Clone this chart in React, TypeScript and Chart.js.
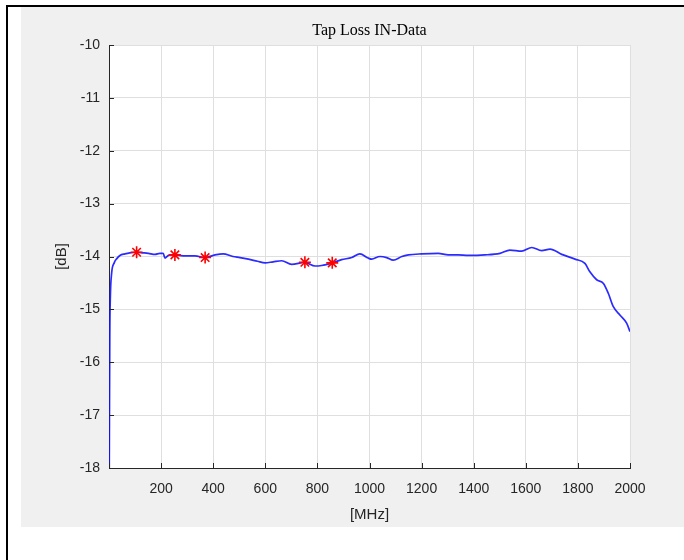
import React, { useEffect, useRef } from "react";
import { Chart, registerables } from "chart.js";

Chart.register(...registerables);

const TITLE = "Tap Loss IN-Data";
const X_TITLE = "[MHz]";
const Y_TITLE = "[dB]";

const freqMHz = [
  1, 3, 5, 10, 20, 30, 42, 61, 80, 106, 130, 151, 177, 195, 208, 215, 225, 234, 253, 270,
  292, 330, 369, 407, 438, 476, 503, 535, 570, 599, 630, 663, 701, 752, 791, 816, 857, 893,
  932, 963, 995, 1008, 1040, 1066, 1091, 1124, 1149, 1200, 1264, 1302, 1340, 1379, 1443,
  1501, 1539, 1584, 1623, 1661, 1693, 1738, 1789, 1827, 1846, 1872, 1898, 1917, 1936, 1962,
  1987, 2000,
];
const lossDb = [
  -18, -15.5, -14.8, -14.32, -14.12, -14.04, -13.98, -13.95, -13.93, -13.92, -13.93, -13.94,
  -13.96, -13.94, -13.94, -14.03, -13.99, -13.97, -13.97, -13.98, -13.99, -13.99, -14.02,
  -13.97, -13.95, -14.0, -14.02, -14.05, -14.09, -14.12, -14.1, -14.08, -14.15, -14.11,
  -14.18, -14.17, -14.12, -14.06, -14.02, -13.95, -14.03, -14.05, -14.0, -14.02, -14.07,
  -14.0, -13.97, -13.95, -13.94, -13.97, -13.97, -13.98, -13.97, -13.94, -13.88, -13.9,
  -13.83, -13.89, -13.86, -13.96, -14.05, -14.13, -14.29, -14.44, -14.51, -14.7, -14.95,
  -15.11, -15.26, -15.42,
];

const markerFreqMHz = [106, 253, 369, 752, 857];
const markerLossDb = [-13.92, -13.97, -14.02, -14.11, -14.12];

const X_MIN = 0;
const X_MAX = 2000;
const X_STEP = 200;
const Y_MIN = -18;
const Y_MAX = -10;
const Y_STEP = 1;

const AXIS_COLOR = "#262626";
const GRID_COLOR = "#dfdfdf";
const TICK_FONT = "'Liberation Sans', Arial, sans-serif";

const decorPlugin = {
  id: "decor",
  beforeDraw(chart: any) {
    const { ctx, chartArea } = chart;
    ctx.save();
    ctx.fillStyle = "#ffffff";
    ctx.fillRect(chartArea.left, chartArea.top, chartArea.right - chartArea.left, chartArea.bottom - chartArea.top);
    ctx.restore();
  },
  afterDraw(chart: any) {
    const { ctx, chartArea, scales } = chart;
    const xs = scales.x;
    const ys = scales.y;
    ctx.save();
    ctx.strokeStyle = AXIS_COLOR;
    ctx.lineWidth = 1;
    ctx.beginPath();
    xs.ticks.forEach((t: any) => {
      const px = Math.round(xs.getPixelForValue(t.value)) + 0.5;
      ctx.moveTo(px, chartArea.bottom);
      ctx.lineTo(px, chartArea.bottom - 5);
    });
    ys.ticks.forEach((t: any) => {
      const py = Math.round(ys.getPixelForValue(t.value)) + 0.5;
      ctx.moveTo(chartArea.left, py);
      ctx.lineTo(chartArea.left + 5, py);
    });
    ctx.stroke();
    const cx = (chartArea.left + chartArea.right) / 2;
    ctx.fillStyle = "#000000";
    ctx.font = "16px 'Liberation Serif', 'Times New Roman', serif";
    ctx.textAlign = "center";
    ctx.textBaseline = "middle";
    ctx.fillText(TITLE, cx, 24);
    ctx.fillStyle = AXIS_COLOR;
    ctx.font = `15px ${TICK_FONT}`;
    ctx.fillText(X_TITLE, cx, chartArea.bottom + 47);
    ctx.save();
    ctx.translate(41, (chartArea.top + chartArea.bottom) / 2);
    ctx.rotate(-Math.PI / 2);
    ctx.fillText(Y_TITLE, 0, 0);
    ctx.restore();
    ctx.restore();
  },
};

export default function App() {
  const canvasRef = useRef<HTMLCanvasElement | null>(null);

  useEffect(() => {
    document.body.style.margin = "0";
    const canvas = canvasRef.current;
    if (!canvas) return;
    const lineData = freqMHz.map((f, i) => ({ x: f, y: lossDb[i] }));
    const markerData = markerFreqMHz.map((f, i) => ({ x: f, y: markerLossDb[i] }));
    const chart = new Chart(canvas, {
      type: "line",
      data: {
        datasets: [
          {
            label: "markers",
            data: markerData,
            showLine: false,
            pointStyle: "star",
            pointRadius: 6,
            pointBorderColor: "#ff0000",
            pointBackgroundColor: "#ff0000",
            pointBorderWidth: 1.6,
            order: 0,
          },
          {
            label: "Tap Loss",
            data: lineData,
            borderColor: "rgba(20,20,255,0.9)",
            borderWidth: 1.7,
            pointRadius: 0,
            cubicInterpolationMode: "monotone",
            fill: false,
            order: 1,
          },
        ],
      },
      options: {
        animation: false,
        responsive: false,
        maintainAspectRatio: false,
        layout: { padding: { left: 0, right: 54, top: 38, bottom: 0 } },
        plugins: { legend: { display: false }, tooltip: { enabled: false }, title: { display: false } },
        scales: {
          x: {
            type: "linear",
            min: X_MIN,
            max: X_MAX,
            afterFit: (s: any) => {
              s.height = 59;
            },
            ticks: {
              stepSize: X_STEP,
              padding: 13,
              color: AXIS_COLOR,
              font: { size: 14, family: TICK_FONT },
              maxRotation: 0,
              callback: (v: any) => (v === 0 ? "" : String(v)),
            },
            grid: { color: GRID_COLOR, drawTicks: false, lineWidth: 1 },
            border: { display: true, color: AXIS_COLOR, width: 1 },
          },
          y: {
            type: "linear",
            min: Y_MIN,
            max: Y_MAX,
            afterFit: (s: any) => {
              s.width = 88;
            },
            ticks: {
              stepSize: Y_STEP,
              padding: 9,
              color: AXIS_COLOR,
              font: { size: 14, family: TICK_FONT },
            },
            grid: { color: GRID_COLOR, drawTicks: false, lineWidth: 1 },
            border: { display: true, color: AXIS_COLOR, width: 1 },
          },
        },
      },
      plugins: [decorPlugin],
    });
    return () => chart.destroy();
  }, []);

  return (
    <div style={{ position: "relative", width: 684, height: 560, background: "#ffffff", overflow: "hidden" }}>
      <div style={{ position: "absolute", left: 6, top: 5, width: 2, height: 555, background: "#000" }} />
      <div style={{ position: "absolute", left: 6, top: 5, width: 678, height: 2, background: "#000" }} />
      <div style={{ position: "absolute", left: 21, top: 7, width: 663, height: 520, background: "#f0f0f0" }}>
        <canvas ref={canvasRef} width={663} height={520} style={{ display: "block", width: 663, height: 520 }} />
      </div>
    </div>
  );
}
